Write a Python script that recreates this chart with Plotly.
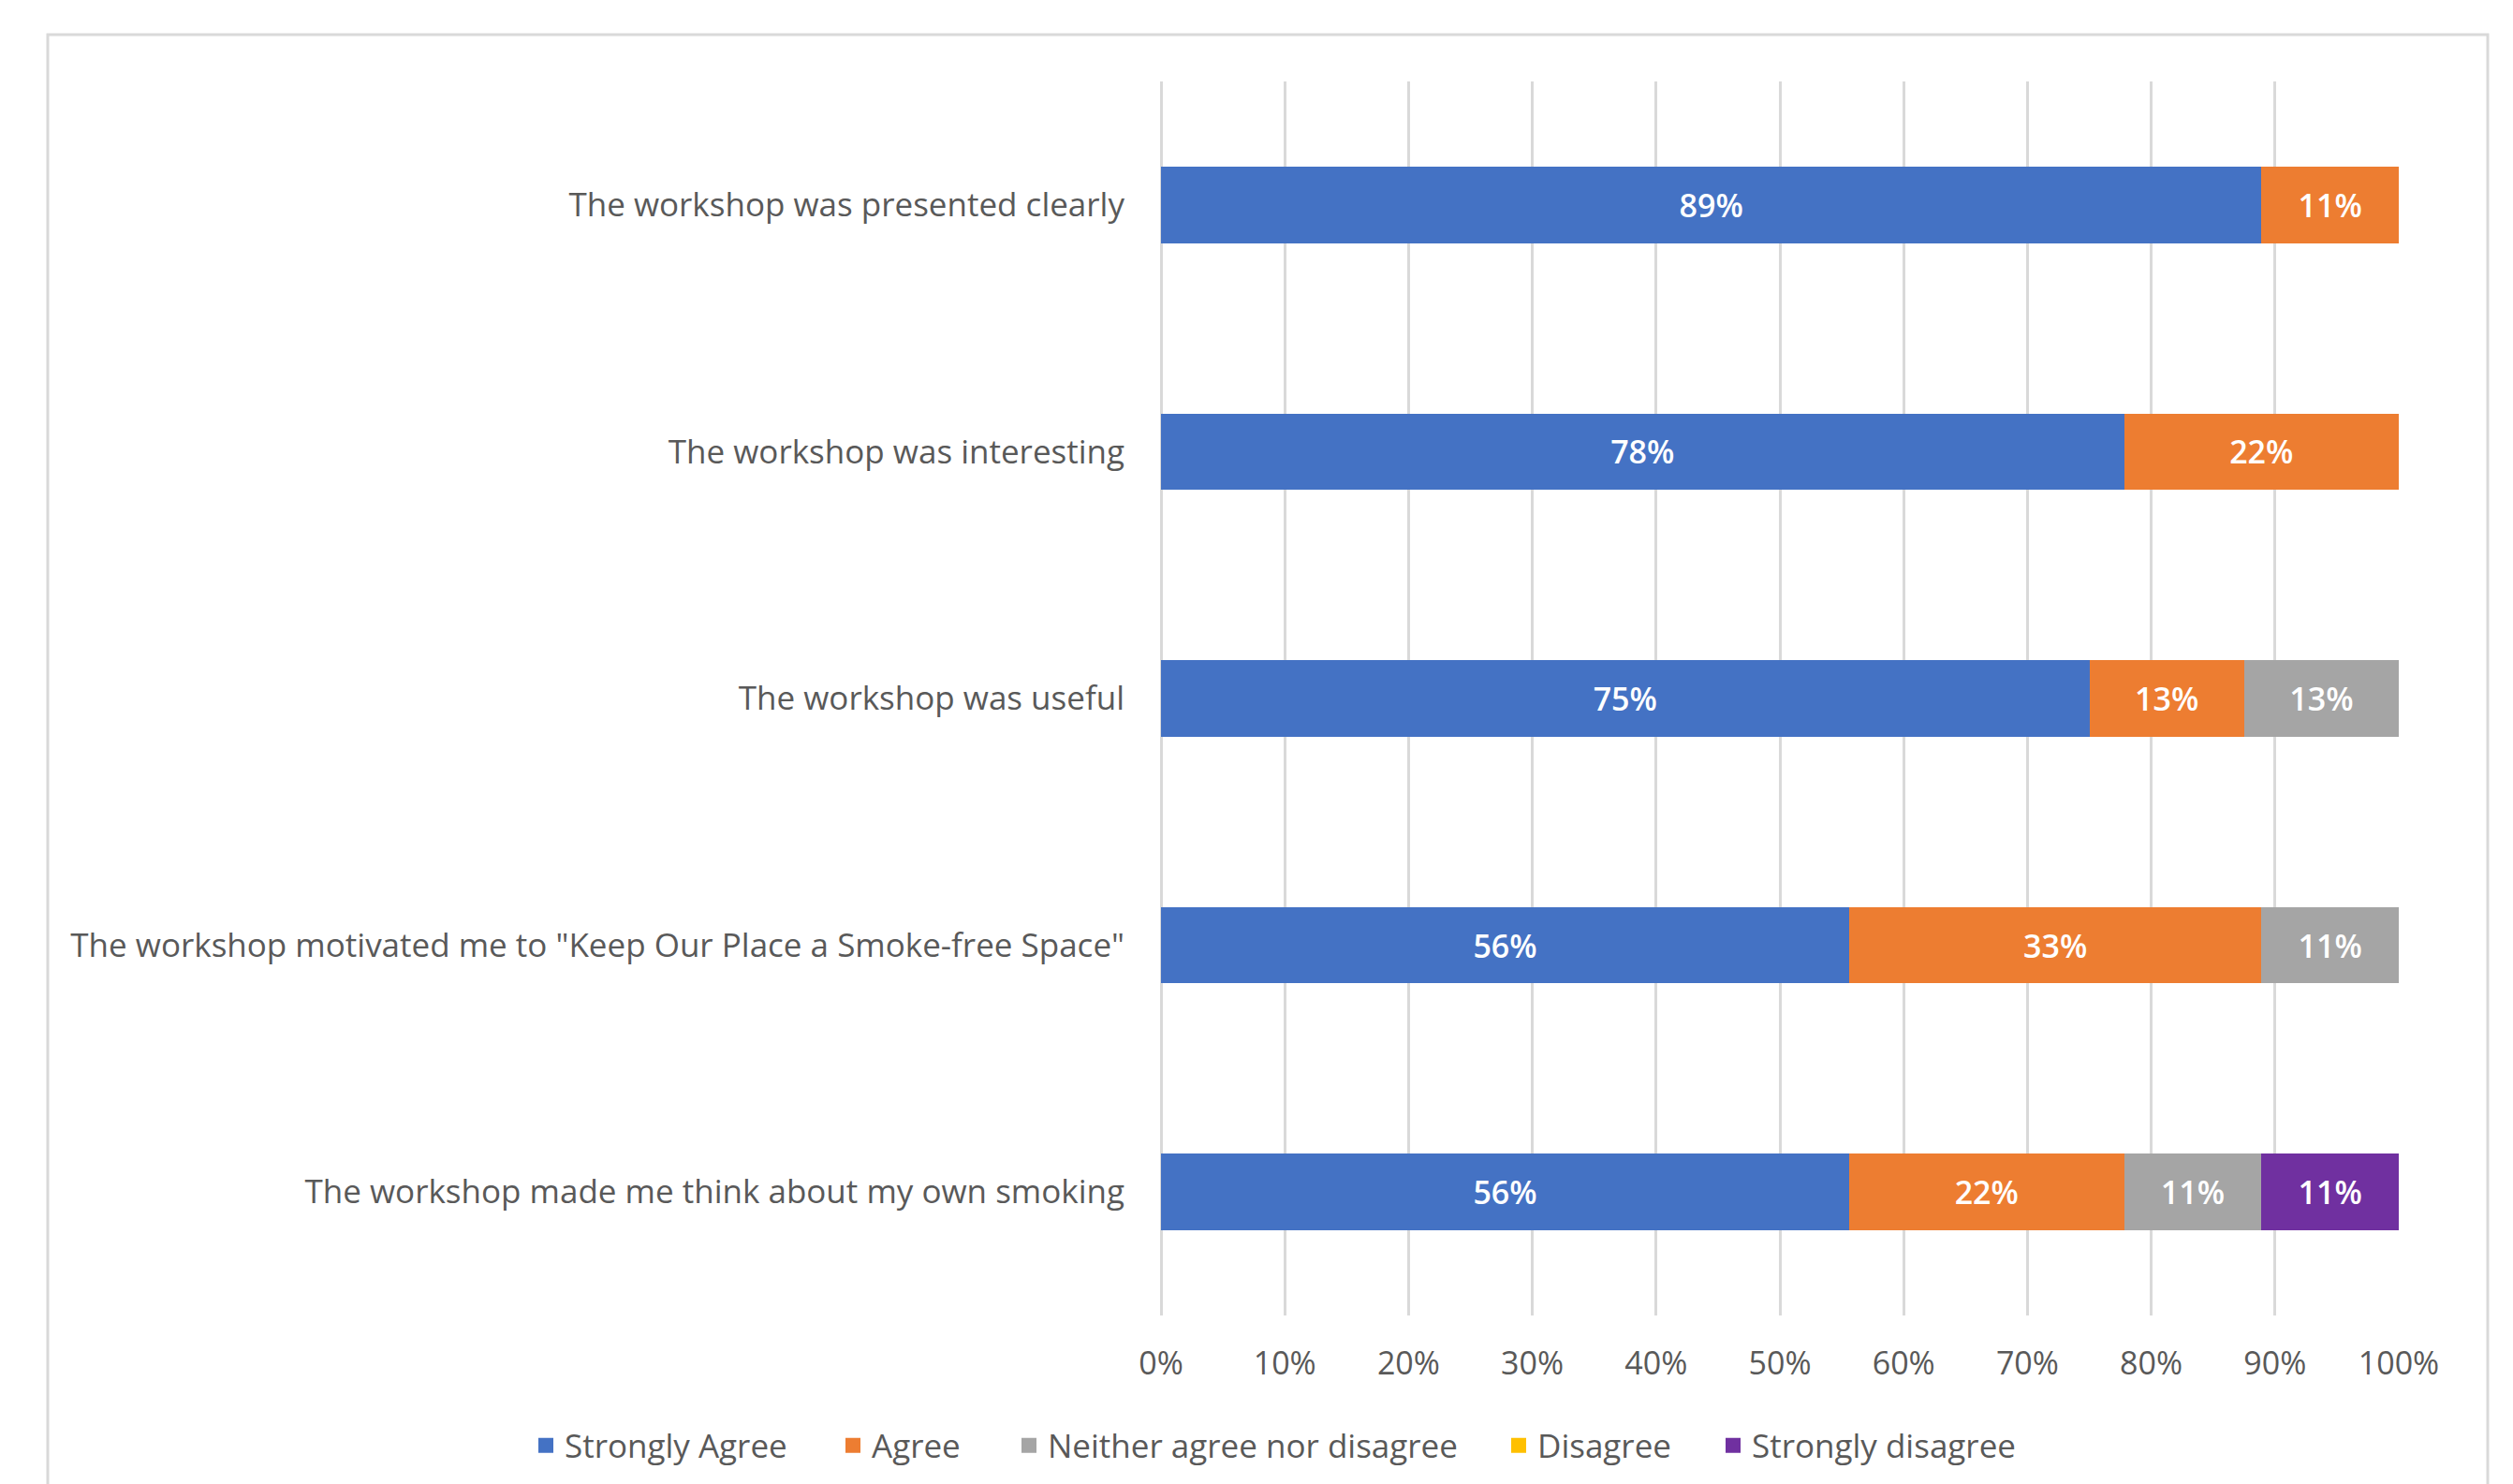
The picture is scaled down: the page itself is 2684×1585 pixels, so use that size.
import plotly.graph_objects as go

categories = [
    "The workshop was presented clearly",
    "The workshop was interesting",
    "The workshop was useful",
    "The workshop motivated me to \"Keep Our Place a Smoke-free Space\"",
    "The workshop made me think about my own smoking",
]
series_names = ["Strongly Agree", "Agree", "Neither agree nor disagree", "Disagree", "Strongly disagree"]
strongly_agree = [88.9, 77.8, 75.0, 55.6, 55.6]
agree = [11.1, 22.2, 12.5, 33.3, 22.2]
neither = [0, 0, 12.5, 11.1, 11.1]
disagree = [0, 0, 0, 0, 0]
strongly_disagree = [0, 0, 0, 0, 11.1]
colors = ["#4472C4", "#ED7D31", "#A5A5A5", "#FFC000", "#7030A0"]
tick_vals = [0, 10, 20, 30, 40, 50, 60, 70, 80, 90, 100]
tick_text = ["0%", "10%", "20%", "30%", "40%", "50%", "60%", "70%", "80%", "90%", "100%"]

FONT = "Open Sans"
TXT = "#595959"

# page has an 8px body margin; figure coordinates = page coordinates - 8
OFF = 8
W, H = 2684 - OFF, 1585 - OFF
L, R, T, B = 1240 - OFF, 2562 - OFF, 87 - OFF, 1405 - OFF
pw, ph = R - L, B - T

def px(x):
    return (x - OFF - L) / pw

def py(y):
    return (B - (y - OFF)) / ph

legend_x_page = [563, 891, 1079, 1602, 1831]
legend_ids = ["legend", "legend2", "legend3", "legend4", "legend5"]

fig = go.Figure()
for name, vals, col, lid in zip(series_names,
                                [strongly_agree, agree, neither, disagree, strongly_disagree],
                                colors, legend_ids):
    fig.add_trace(go.Bar(
        y=categories, x=vals, name=name, orientation="h",
        marker=dict(color=col, line=dict(width=0)),
        text=[f"{int(v + 0.5)}%" if v > 0 else "" for v in vals],
        textposition="inside", insidetextanchor="middle",
        textfont=dict(color="white", size=34, family=FONT, weight=600),
        constraintext="none", showlegend=False,
    ))
    # legend-only entry with a larger square swatch
    fig.add_trace(go.Scatter(
        x=[None], y=[None], mode="markers", name=name, legend=lid,
        marker=dict(symbol="square", size=20, color=col), showlegend=True,
    ))

legends = {}
for lid, lx in zip(legend_ids, legend_x_page):
    legends[lid] = dict(orientation="h", x=px(lx), xanchor="left", y=py(1544), yanchor="middle",
                        font=dict(size=35, color=TXT, family=FONT), itemwidth=30,
                        itemsizing="trace", bgcolor="rgba(0,0,0,0)")

fig.update_layout(
    width=W, height=H,
    barmode="stack", bargap=0.69,
    paper_bgcolor="white", plot_bgcolor="white",
    margin=dict(l=L, r=W - R, t=T, b=H - B, pad=0, autoexpand=False),
    font=dict(family=FONT, size=35, color=TXT),
    showlegend=True,
    xaxis=dict(range=[0, 100], tickvals=tick_vals, ticktext=tick_text,
               showgrid=True, gridcolor="#D9D9D9", gridwidth=2.5,
               zeroline=True, zerolinecolor="#D9D9D9", zerolinewidth=2.5,
               showline=False, ticks="", ticklabelstandoff=28, automargin=False,
               tickfont=dict(size=34, color=TXT), fixedrange=True),
    yaxis=dict(categoryorder="array", categoryarray=categories[::-1],
               showgrid=False, zeroline=False, showline=False, ticks="", automargin=False,
               ticklabelstandoff=38, tickfont=dict(size=35, color=TXT)),
    shapes=[dict(type="rect", xref="paper", yref="paper",
                 x0=px(51), x1=px(2657), y0=py(1640), y1=py(37),
                 line=dict(color="#D9D9D9", width=3), layer="below")],
    **legends,
)

fig.write_html("out.html")
